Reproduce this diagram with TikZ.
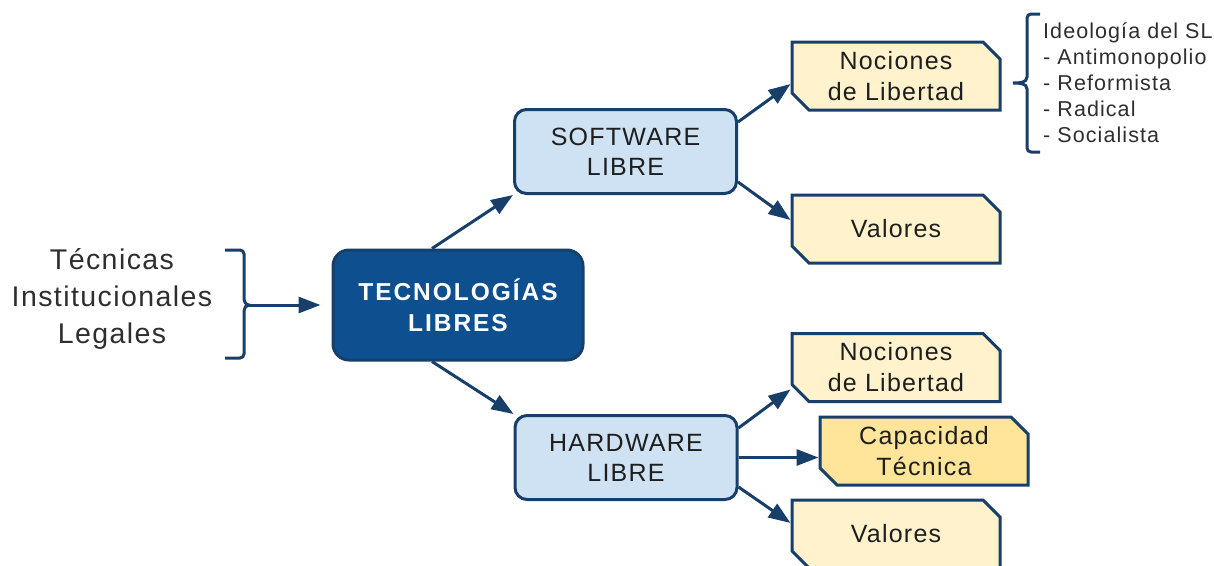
\documentclass[tikz,border=0pt]{standalone}
\usepackage{fontspec}
\setmainfont{Liberation Sans}
\usetikzlibrary{arrows.meta,shapes.misc,calc}
\definecolor{navy}{HTML}{173F6A}
\definecolor{cfill}{HTML}{0E4F90}
\definecolor{lblue}{HTML}{CFE2F3}
\definecolor{lyel}{HTML}{FFF2CC}
\definecolor{dyel}{HTML}{FFE599}
\definecolor{txt}{HTML}{1E1E1E}
\definecolor{ltxt}{HTML}{2E2E2E}
\begin{document}
\begin{tikzpicture}[x=1pt,y=-1pt,
  mainbox/.style={draw=navy, fill=cfill, line width=3pt, rounded corners=16pt,
    minimum width=250pt, minimum height=110pt, inner sep=0pt, text=white, align=center,
    font=\fontsize{24.5}{31}\selectfont\bfseries\addfontfeature{LetterSpace=8}},
  subbox/.style={draw=navy, fill=lblue, line width=3pt, rounded corners=12pt,
    minimum width=222pt, minimum height=84pt, inner sep=0pt, text=txt, align=center,
    font=\fontsize{25}{30}\selectfont\addfontfeature{LetterSpace=5}},
  leafbox/.style={chamfered rectangle, chamfered rectangle corners={north east,south west},
    chamfered rectangle xsep=8.5pt, chamfered rectangle ysep=8.5pt,
    draw=navy, fill=lyel, line width=3pt, minimum width=208pt, minimum height=68pt,
    inner sep=0pt, text=txt, align=center,
    font=\fontsize{25}{31}\selectfont\addfontfeature{LetterSpace=5}},
  conn/.style={draw=navy, line width=3pt, -{Triangle[length=22pt,width=16pt]}},
  bracket/.style={draw=navy, line width=3pt}]
\useasboundingbox (0,0) rectangle (1214,565);

% left text and bracket
\node[text=ltxt, align=center, inner sep=0pt,
  font=\fontsize{28.5}{37}\selectfont\addfontfeature{LetterSpace=5}] (lt) at (112,299)
  {Técnicas\\Institucionales\\Legales};
\draw[bracket] (225,250) -- (240,250) to[out=0,in=90] (244,254) -- (244,298)
  to[out=-90,in=180] (249,305) to[out=180,in=90] (244,311) -- (244,354)
  to[out=-90,in=0] (240,358) -- (225,358);
\coordinate (bt) at (249,305);

% main nodes
\node[mainbox] (c) at (458,305) {TECNOLOGÍAS\\LIBRES};
\node[subbox] (sw) at (625.5,151.5) {SOFTWARE\\LIBRE};
\node[subbox] (hw) at (626,457.5) {HARDWARE\\LIBRE};

% leaves
\node[leafbox] (n1) at (896,76) {Nociones\\de Libertad};
\node[leafbox] (v1) at (896,229) {Valores};
\node[leafbox] (n2) at (896,367.5) {Nociones\\de Libertad};
\node[leafbox, fill=dyel] (cap) at (924,451) {Capacidad\\Técnica};
\node[leafbox] (v2) at (896,534) {Valores};

% right brace and list
\draw[bracket] (1040,14) -- (1031,14) to[out=180,in=90] (1027,18) -- (1027,77)
  to[out=-90,in=0] (1013,83) to[out=0,in=90] (1027,89) -- (1027,148)
  to[out=-90,in=180] (1031,152) -- (1040,152);
\node[anchor=west, align=left, inner sep=0pt, text=ltxt,
  font=\fontsize{21.5}{26}\selectfont\addfontfeature{LetterSpace=5}] (ideo) at (1043,83)
  {Ideología del SL\\- Antimonopolio\\- Reformista\\- Radical\\- Socialista};

% connectors
\draw[conn, shorten >=11pt] (bt) -- (c.west);
\draw[conn] ([xshift=-26pt]c.north) -- (sw.south west);
\draw[conn] ([xshift=-26pt]c.south) -- (hw.north west);
\draw[conn] ([yshift=29.5pt]sw.east) -- ([yshift=-8pt]n1.west);
\draw[conn] ([yshift=-30.5pt]sw.east) -- ([yshift=9pt]v1.west);
\draw[conn] ([yshift=29.5pt]hw.east) -- ([yshift=-22pt]n2.west);
\draw[conn] (hw.east) -- (hw.east -| cap.west);
\draw[conn] ([yshift=-29.5pt]hw.east) -- ([yshift=11pt]v2.west);
\end{tikzpicture}
\end{document}
